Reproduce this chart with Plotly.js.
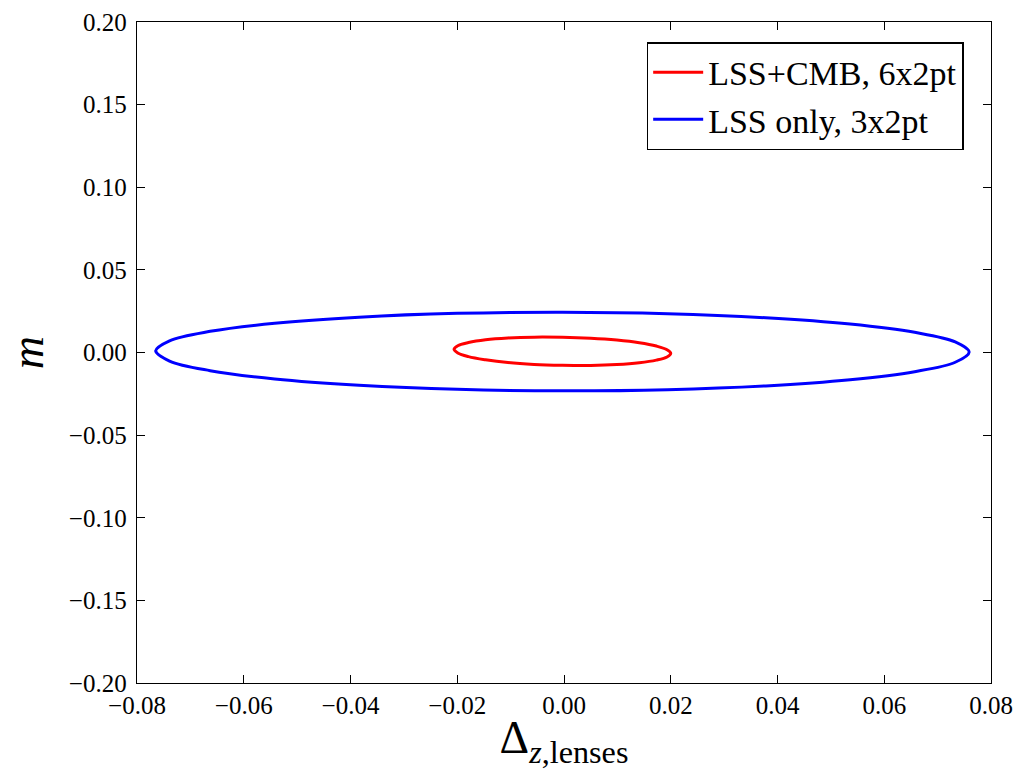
<!DOCTYPE html>
<html>
<head>
<meta charset="utf-8">
<script src="https://cdn.plot.ly/plotly-3.0.1.min.js"></script>
<style>html,body{margin:0;padding:0;background:#fff;}</style>
</head>
<body>
<div id="chart" style="width:1013px;height:770px;"></div>
<script>
// Contour points (closed loops)
const redX = [0.0200, 0.0193, 0.0173, 0.0141, 0.0099, 0.0050, -0.0003, -0.0056, -0.0105, -0.0147, -0.0179, -0.0199,
              -0.0206, -0.0199, -0.0179, -0.0147, -0.0105, -0.0056, -0.0003, 0.0050, 0.0099, 0.0141, 0.0173, 0.0193, 0.0200];
const redY = [-0.0005, 0.0017, 0.0039, 0.0059, 0.0075, 0.0086, 0.0092, 0.0093, 0.0088, 0.0077, 0.0060, 0.0041,
              0.0019, -0.0003, -0.0025, -0.0044, -0.0061, -0.0072, -0.0077, -0.0078, -0.0073, -0.0062, -0.0046, -0.0027, -0.0005];

const blueX = [0.0759, 0.0733, 0.0657, 0.0536, 0.0378, 0.0194, -0.0003, -0.0200, -0.0384, -0.0542, -0.0663, -0.0739,
               -0.0765, -0.0739, -0.0663, -0.0542, -0.0384, -0.0200, -0.0003, 0.0194, 0.0378, 0.0536, 0.0657, 0.0733, 0.0759];
const blueY = [0.0002, 0.0064, 0.0122, 0.0172, 0.0210, 0.0235, 0.0244, 0.0237, 0.0214, 0.0177, 0.0128, 0.0071,
               0.0010, -0.0052, -0.0110, -0.0160, -0.0198, -0.0223, -0.0232, -0.0225, -0.0202, -0.0165, -0.0116, -0.0059, 0.0002];

const seriesNames = ["LSS+CMB, 6x2pt", "LSS only, 3x2pt"];
const xTicks = [-0.08, -0.06, -0.04, -0.02, 0.00, 0.02, 0.04, 0.06, 0.08];
const yTicks = [-0.20, -0.15, -0.10, -0.05, 0.00, 0.05, 0.10, 0.15, 0.20];

const serif = "Liberation Serif, DejaVu Serif, serif";

const traces = [
  {x: redX, y: redY, name: seriesNames[0], mode: "lines", legendgroup: "a",
   line: {color: "#ff0000", width: 3, shape: "spline", smoothing: 1.0}},
  {x: blueX, y: blueY, name: seriesNames[1], mode: "lines", legendgroup: "b",
   line: {color: "#0000ff", width: 3, shape: "spline", smoothing: 1.0}}
];

const axisCommon = {
  showgrid: false, zeroline: false,
  showline: true, linecolor: "#000", linewidth: 1.3, mirror: "allticks",
  ticks: "inside", ticklen: 8, tickwidth: 1, tickcolor: "#000",
  tickfont: {family: serif, size: 25, color: "#000"},
  tickformat: ".2f"
};

const layout = {
  width: 1013, height: 770,
  margin: {l: 137, r: 22, t: 22, b: 87, pad: 0},
  paper_bgcolor: "#fff", plot_bgcolor: "#fff",
  showlegend: true,
  xaxis: Object.assign({}, axisCommon, {
    range: [-0.08, 0.08], tickvals: xTicks, ticklabelstandoff: 0,
    title: {text: "Δ<sub><i>z</i>,lenses</sub>", font: {family: serif, size: 46, color: "#000"}, standoff: 6}
  }),
  yaxis: Object.assign({}, axisCommon, {
    range: [-0.2, 0.2], tickvals: yTicks, ticklabelstandoff: 4,
    title: {text: "<i>m</i>", font: {family: serif, size: 46, color: "#000"}, standoff: 10}
  }),
  legend: {
    x: 0.968, y: 0.9697, xanchor: "right", yanchor: "top",
    bgcolor: "#fff", bordercolor: "#000", borderwidth: 1.5,
    font: {family: serif, size: 34, color: "#000"},
    itemwidth: 50, tracegroupgap: 0
  }
};

Plotly.newPlot("chart", traces, layout, {displayModeBar: false, staticPlot: true});
</script>
</body>
</html>
